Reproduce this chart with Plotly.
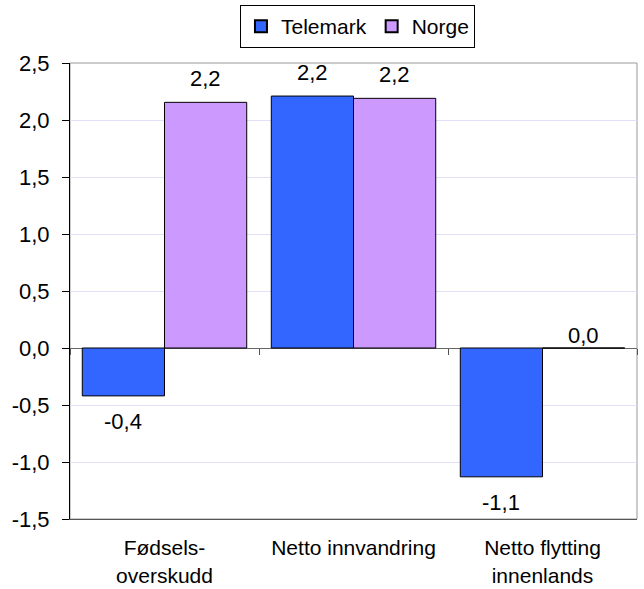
import plotly.graph_objects as go

categories = ["Fødsels-<br>overskudd", "Netto innvandring", "Netto flytting<br>innenlands"]
telemark = [-0.42, 2.21, -1.13]
norge = [2.155, 2.19, 0.0]
series_names = ["Telemark", "Norge"]
y_ticks = [-1.5, -1.0, -0.5, 0.0, 0.5, 1.0, 1.5, 2.0, 2.5]
y_tick_labels = ["-1,5", "-1,0", "-0,5", "0,0", "0,5", "1,0", "1,5", "2,0", "2,5"]

FONT = "Liberation Sans, Arial, sans-serif"
FS = 22
BARGAP = 0.13

fig = go.Figure()
fig.add_trace(go.Bar(
    x=categories, y=telemark, name=series_names[0],
    marker=dict(color="#3366FF", line=dict(color="#000000", width=1)),
))
fig.add_trace(go.Bar(
    x=categories, y=norge, name=series_names[1],
    marker=dict(color="#CC99FF", line=dict(color="#000000", width=1)),
))
# invisible trace to drive the zero-crossing tick axis
fig.add_trace(go.Bar(x=categories, y=[None] * len(categories), xaxis="x2",
                     showlegend=False, hoverinfo="skip"))

# value labels (Excel-style offset from bar ends)
half = (1 - BARGAP) / 4
annotations = []
for s_idx, series in enumerate([telemark, norge]):
    off = -half if s_idx == 0 else half
    for i, v in enumerate(series):
        if v > 0:
            anchor, shift = "bottom", 9
        elif v < 0:
            anchor, shift = "top", -11
        else:
            anchor, shift = "bottom", -2
        annotations.append(dict(
            x=i + off, y=v, xref="x", yref="y",
            text=f"{v:.1f}".replace(".", ","),
            showarrow=False, yanchor=anchor, yshift=shift,
            font=dict(family=FONT, size=FS, color="#000000"),
        ))

ymin, ymax = y_ticks[0], y_ticks[-1]

fig.update_layout(
    width=644, height=589,
    margin=dict(l=70, r=7, t=63, b=70, autoexpand=False),
    paper_bgcolor="white", plot_bgcolor="white",
    barmode="group", bargap=BARGAP, bargroupgap=0,
    font=dict(family=FONT, size=FS, color="#000000"),
    annotations=annotations,
    legend=dict(
        orientation="h", x=0.507, xanchor="center", y=1.08, yanchor="middle",
        bordercolor="#000000", borderwidth=1, bgcolor="white",
        font=dict(family=FONT, size=21), itemsizing="constant",
        tracegroupgap=0, itemwidth=30,
    ),
    xaxis=dict(
        type="category", categoryorder="array", categoryarray=categories,
        range=[-0.5, len(categories) - 0.5],
        showline=True, linecolor="#555555", linewidth=1,
        ticks="", showgrid=False, zeroline=False,
        tickfont=dict(family=FONT, size=21),
        ticklabelstandoff=10, automargin=False,
    ),
    xaxis2=dict(
        type="category", categoryorder="array", categoryarray=categories,
        range=[-0.5, len(categories) - 0.5],
        overlaying="x", anchor="free",
        position=(0 - ymin) / (ymax - ymin),
        showline=False, ticks="outside", tickson="boundaries",
        ticklen=6, tickcolor="#555555", tickwidth=1,
        showticklabels=False, showgrid=False, zeroline=False,
    ),
    yaxis=dict(
        range=[ymin, ymax], tickvals=y_ticks, ticktext=y_tick_labels,
        showline=True, linecolor="#000000", linewidth=1,
        ticks="outside", ticklen=7, tickcolor="#000000",
        showgrid=True, gridcolor="#E0E0F8", gridwidth=1,
        zeroline=True, zerolinecolor="#666666", zerolinewidth=1,
        tickfont=dict(family=FONT, size=FS),
        ticklabelstandoff=8, automargin=False,
    ),
    shapes=[dict(type="rect", xref="paper", yref="paper", x0=0, x1=1, y0=0, y1=1,
                 line=dict(color="#999999", width=1), layer="below")],
)

fig.write_html("out.html", config={"displayModeBar": False},
               post_script="document.body.style.margin='0';")
